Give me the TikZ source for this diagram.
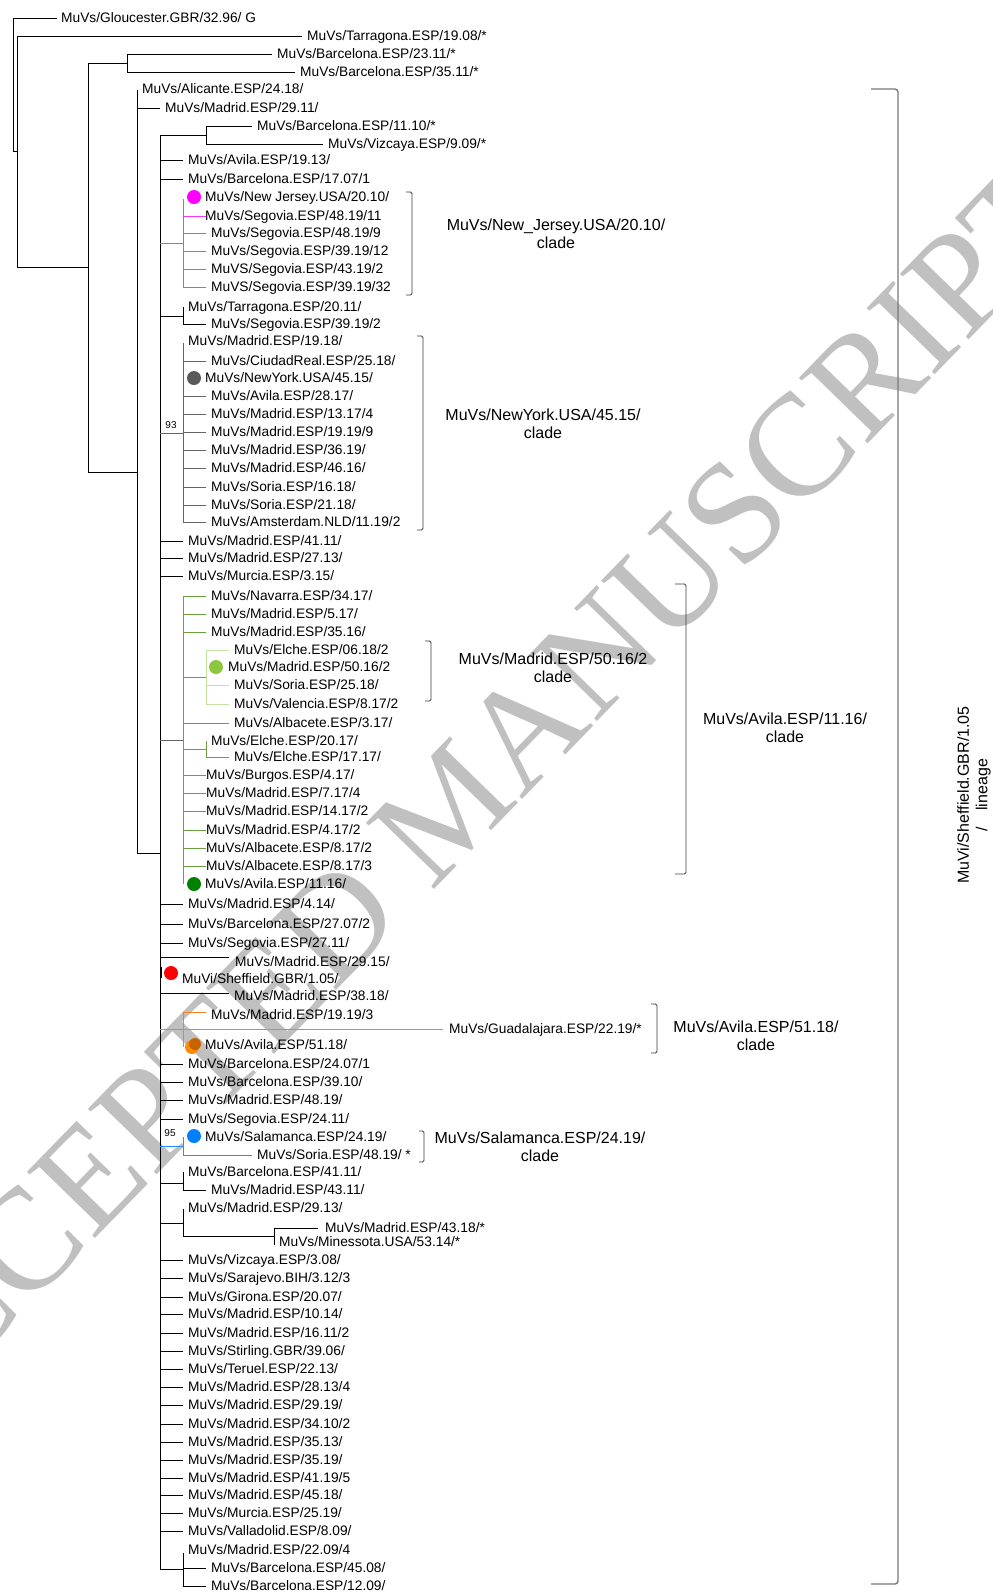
\documentclass[tikz,border=0pt]{standalone}
\usepackage{fontspec}
\newfontfamily\arialf{Liberation Sans}
\newfontfamily\timesf{Liberation Serif}
\newcommand\leaffont{\arialf\fontsize{13.75}{16}\selectfont}
\newcommand\cladefont{\arialf\fontsize{16}{18.5}\selectfont}
\newcommand\bootfont{\arialf\fontsize{10}{12}\selectfont}
\definecolor{mg}{RGB}{255,50,255}
\definecolor{magdot}{RGB}{255,0,255}
\definecolor{nyg}{RGB}{100,100,100}
\definecolor{nydot}{RGB}{90,90,90}
\definecolor{avg}{RGB}{105,160,65}
\definecolor{avdot}{RGB}{0,128,0}
\definecolor{lgr}{RGB}{195,225,165}
\definecolor{lgdot}{RGB}{141,198,63}
\definecolor{orl}{RGB}{245,130,20}
\definecolor{ordotA}{RGB}{255,140,0}
\definecolor{ordotB}{RGB}{200,100,0}
\definecolor{bll}{RGB}{40,140,255}
\definecolor{bldot}{RGB}{0,128,255}
\definecolor{wmc}{RGB}{192,192,192}
\definecolor{brk}{RGB}{60,60,60}
\definecolor{linc}{RGB}{120,120,120}
% leaf: [style]{name}{x0}{x1}{xlabel}{y}{text}
\newcommand\lf[7][br]{%
  \coordinate (#2-s) at (#3,#6);
  \coordinate (#2-e) at (#4,#6);
  \node[lab] (#2) at (#5,#6) {#7};
  \draw[#1] (#2-s) -- (#2-e);}
\begin{document}
\begin{tikzpicture}[x=1pt,y=-1pt,
  br/.style={line width=0.9pt,black},
  mgl/.style={line width=0.8pt,mg},
  nyl/.style={line width=0.8pt,nyg},
  avl/.style={line width=0.8pt,avg},
  lgl/.style={line width=0.8pt,lgr},
  orb/.style={line width=0.9pt,orl},
  blb/.style={line width=0.8pt,bll},
  brack/.style={line width=0.9pt,brk,rounded corners=1.5pt},
  lab/.style={anchor=base west,inner sep=0pt,font=\leaffont,yshift=-4.9pt},
  clade/.style={align=center,inner sep=0pt,font=\cladefont},
  boot/.style={inner sep=0pt,font=\bootfont},
  dot/.style={circle,inner sep=0pt,minimum size=14pt}]
\useasboundingbox (0,0) rectangle (993,1596);
\fill[white] (0,0) rectangle (993,1596);
% watermark
\node[rotate=45.8,text=wmc,inner sep=0pt,font=\timesf\fontsize{145}{145}\selectfont] (wmark) at (450,806) {ACCEPTED MANUSCRIPT};
% root part
\draw[br] (13,18) -- (13,151);
\lf{glo}{13}{57}{61}{18}{MuVs/Gloucester.GBR/32.96/ G}
\draw[br] (13,151) -- (17,151);
\draw[br] (17,36) -- (17,267);
\lf{tarA}{17}{302}{307}{36}{MuVs/Tarragona.ESP/19.08/*}
\draw[br] (17,267) -- (88,267);
\draw[br] (88,63) -- (88,472);
\draw[br] (88,63) -- (127,63);
\draw[br] (127,54) -- (127,72);
\lf{barA}{127}{272}{277}{54}{MuVs/Barcelona.ESP/23.11/*}
\lf{barB}{127}{295}{300}{72}{MuVs/Barcelona.ESP/35.11/*}
\draw[br] (88,472) -- (137,472);
\draw[br] (137,90) -- (137,853);
\node[lab] (ali) at (142,89) {MuVs/Alicante.ESP/24.18/};
\lf{madA}{137}{160}{165}{108}{MuVs/Madrid.ESP/29.11/}
\draw[br] (137,853) -- (160,853);
\draw[br] (160,135) -- (160,1569);
\draw[br] (160,135) -- (206,135);
\draw[br] (206,126) -- (206,144);
\lf{barC}{206}{252}{257}{126}{MuVs/Barcelona.ESP/11.10/*}
\lf{vizA}{206}{323}{328}{144}{MuVs/Vizcaya.ESP/9.09/*}
\lf{aviA}{160}{183}{188}{160}{MuVs/Avila.ESP/19.13/}
\lf{barD}{160}{183}{188}{179}{MuVs/Barcelona.ESP/17.07/1}
% New Jersey clade
\draw[mgl] (160,243) -- (183,243);
\draw[mgl] (183,199) -- (183,287);
\node[dot,fill=magdot] (dnj) at (194,197) {};
\node[lab] (nj) at (205,197) {MuVs/New Jersey.USA/20.10/};
\lf[mgl]{segA}{183}{206}{205}{216}{MuVs/Segovia.ESP/48.19/11}
\lf[mgl]{segB}{183}{206}{211}{233}{MuVs/Segovia.ESP/48.19/9}
\lf[mgl]{segC}{183}{206}{211}{251}{MuVs/Segovia.ESP/39.19/12}
\lf[mgl]{segD}{183}{206}{211}{269}{MuVS/Segovia.ESP/43.19/2}
\lf[mgl]{segE}{183}{206}{211}{287}{MuVS/Segovia.ESP/39.19/32}
\draw[brack] (406,192) -- (412,192) -- (412,295) -- (406,295);
\node[clade] (cnj) at (556,234) {MuVs/New\_Jersey.USA/20.10/\\clade};
% Tarragona 20.11
\draw[br] (160,316) -- (183,316);
\draw[br] (183,307) -- (183,325);
\node[lab] (tarB) at (188,307) {MuVs/Tarragona.ESP/20.11/};
\lf{segF}{183}{206}{211}{324}{MuVs/Segovia.ESP/39.19/2}
% New York clade
\draw[nyl] (160,433) -- (183,433);
\node[boot] (bA) at (171,425) {93};
\draw[nyl] (183,343) -- (183,523);
\node[lab] (madB) at (188,341) {MuVs/Madrid.ESP/19.18/};
\lf[nyl]{ciu}{183}{206}{211}{361}{MuVs/CiudadReal.ESP/25.18/}
\node[dot,fill=nydot] (dny) at (194,378) {};
\node[lab] (ny) at (205,378) {MuVs/NewYork.USA/45.15/};
\lf[nyl]{aviB}{183}{206}{211}{396}{MuVs/Avila.ESP/28.17/}
\lf[nyl]{madC}{183}{206}{211}{414}{MuVs/Madrid.ESP/13.17/4}
\lf[nyl]{madD}{183}{206}{211}{432}{MuVs/Madrid.ESP/19.19/9}
\lf[nyl]{madE}{183}{206}{211}{450}{MuVs/Madrid.ESP/36.19/}
\lf[nyl]{madF}{183}{206}{211}{468}{MuVs/Madrid.ESP/46.16/}
\lf[nyl]{sorA}{183}{206}{211}{487}{MuVs/Soria.ESP/16.18/}
\lf[nyl]{sorB}{183}{206}{211}{505}{MuVs/Soria.ESP/21.18/}
\lf[nyl]{ams}{183}{206}{211}{522}{MuVs/Amsterdam.NLD/11.19/2}
\draw[brack] (417,336) -- (423,336) -- (423,530) -- (417,530);
\node[clade] (cny) at (543,424) {MuVs/NewYork.USA/45.15/\\clade};
\lf{madG}{160}{183}{188}{541}{MuVs/Madrid.ESP/41.11/}
\lf{madH}{160}{183}{188}{558}{MuVs/Madrid.ESP/27.13/}
\lf{murA}{160}{183}{188}{576}{MuVs/Murcia.ESP/3.15/}
% Avila 11.16 clade
\draw[nyl] (160,740) -- (183,740);
\draw[avl] (183,596) -- (183,884);
\lf[avl]{nav}{183}{206}{211}{596}{MuVs/Navarra.ESP/34.17/}
\lf[avl]{madI}{183}{206}{211}{614}{MuVs/Madrid.ESP/5.17/}
\lf[avl]{madJ}{183}{206}{211}{632}{MuVs/Madrid.ESP/35.16/}
\draw[avl] (183,677) -- (206,677);
\draw[lgl] (206,650) -- (206,704);
\lf[lgl]{elcA}{206}{229}{234}{650}{MuVs/Elche.ESP/06.18/2}
\node[dot,fill=lgdot] (dmad) at (216,667) {};
\node[lab] (madK) at (228,667) {MuVs/Madrid.ESP/50.16/2};
\lf[lgl]{sorC}{206}{229}{234}{685}{MuVs/Soria.ESP/25.18/}
\lf[lgl]{val}{206}{229}{234}{704}{MuVs/Valencia.ESP/8.17/2}
\draw[brack] (425,641) -- (431,641) -- (431,701) -- (425,701);
\node[clade] (cmad) at (553,668) {MuVs/Madrid.ESP/50.16/2\\clade};
\lf[avl]{albA}{183}{229}{234}{723}{MuVs/Albacete.ESP/3.17/}
\draw[avl] (183,749) -- (206,749);
\draw[avl] (206,741) -- (206,758);
\node[lab] (elcB) at (211,741) {MuVs/Elche.ESP/20.17/};
\lf[avl]{elcC}{206}{229}{234}{757}{MuVs/Elche.ESP/17.17/}
\lf[avl]{bur}{183}{206}{206}{775}{MuVs/Burgos.ESP/4.17/}
\lf[avl]{madL}{183}{206}{206}{793}{MuVs/Madrid.ESP/7.17/4}
\lf[avl]{madM}{183}{206}{206}{811}{MuVs/Madrid.ESP/14.17/2}
\lf[avl]{madN}{183}{206}{206}{830}{MuVs/Madrid.ESP/4.17/2}
\lf[avl]{albB}{183}{206}{206}{848}{MuVs/Albacete.ESP/8.17/2}
\lf[avl]{albC}{183}{206}{206}{866}{MuVs/Albacete.ESP/8.17/3}
\node[dot,fill=avdot] (dav) at (194,884) {};
\node[lab] (aviC) at (205,884) {MuVs/Avila.ESP/11.16/};
\draw[brack] (675,584) -- (686,584) -- (686,874) -- (675,874);
\node[clade] (cav) at (785,728) {MuVs/Avila.ESP/11.16/\\clade};
% middle part
\lf{madO}{160}{183}{188}{904}{MuVs/Madrid.ESP/4.14/}
\lf{barE}{160}{183}{188}{924}{MuVs/Barcelona.ESP/27.07/2}
\lf{segG}{160}{183}{188}{943}{MuVs/Segovia.ESP/27.11/}
\draw[br] (160,957) -- (229,957);
\node[lab] (madP) at (235,962) {MuVs/Madrid.ESP/29.15/};
\node[dot,fill=red] (dsh) at (171,973) {};
\draw[line width=1.6pt] (161,967) -- (161,978);
\node[lab] (she) at (182,979) {MuVi/Sheffield.GBR/1.05/};
\draw[br] (160,993) -- (229,993);
\node[lab] (madQ) at (234,996) {MuVs/Madrid.ESP/38.18/};
% Avila 51.18 clade
\lf[orb]{gua}{160}{443}{449}{1029}{MuVs/Guadalajara.ESP/22.19/*}
\draw[orb] (183,1012) -- (183,1047);
\draw[orb] (183,1012) -- (206,1012);
\node[lab] (madR) at (211,1015) {MuVs/Madrid.ESP/19.19/3};
\node[dot,fill=ordotA] (doA) at (192,1047) {};
\node[dot,fill=ordotB,minimum size=12pt] (doB) at (195,1044) {};
\node[lab] (aviD) at (205,1045) {MuVs/Avila.ESP/51.18/};
\draw[brack] (651,1004) -- (657,1004) -- (657,1053) -- (651,1053);
\node[clade] (cavb) at (756,1036) {MuVs/Avila.ESP/51.18/\\clade};
\lf{barF}{160}{183}{188}{1064}{MuVs/Barcelona.ESP/24.07/1}
\lf{barG}{160}{183}{188}{1082}{MuVs/Barcelona.ESP/39.10/}
\lf{madS}{160}{183}{188}{1100}{MuVs/Madrid.ESP/48.19/}
\lf{segH}{160}{183}{188}{1119}{MuVs/Segovia.ESP/24.11/}
% Salamanca clade
\node[boot] (bB) at (170,1133) {95};
\draw[blb] (160,1146) -- (183,1146);
\draw[blb] (183,1137) -- (183,1155);
\node[dot,fill=bldot] (dsal) at (194,1136) {};
\node[lab] (sal) at (205,1137) {MuVs/Salamanca.ESP/24.19/};
\lf[blb]{sorD}{183}{252}{257}{1155}{MuVs/Soria.ESP/48.19/ *}
\draw[brack] (419,1131) -- (424,1131) -- (424,1162) -- (419,1162);
\node[clade] (csal) at (540,1147) {MuVs/Salamanca.ESP/24.19/\\clade};
% lower part
\draw[br] (160,1183) -- (183,1183);
\draw[br] (183,1172) -- (183,1190);
\node[lab] (barH) at (188,1172) {MuVs/Barcelona.ESP/41.11/};
\lf{madT}{183}{206}{211}{1190}{MuVs/Madrid.ESP/43.11/}
\draw[br] (160,1223) -- (183,1223);
\draw[br] (183,1209) -- (183,1236);
\node[lab] (madU) at (188,1208) {MuVs/Madrid.ESP/29.13/};
\draw[br] (183,1236) -- (274,1236);
\draw[br] (274,1228) -- (274,1245);
\lf{madV}{274}{318}{325}{1228}{MuVs/Madrid.ESP/43.18/*}
\node[lab] (min) at (279,1242) {MuVs/Minessota.USA/53.14/*};
\lf{vizB}{160}{183}{188}{1260}{MuVs/Vizcaya.ESP/3.08/}
\lf{sar}{160}{183}{188}{1278}{MuVs/Sarajevo.BIH/3.12/3}
\lf{gir}{160}{183}{188}{1297}{MuVs/Girona.ESP/20.07/}
\lf{madW}{160}{183}{188}{1314}{MuVs/Madrid.ESP/10.14/}
\lf{madX}{160}{183}{188}{1333}{MuVs/Madrid.ESP/16.11/2}
\lf{sti}{160}{183}{188}{1351}{MuVs/Stirling.GBR/39.06/}
\lf{ter}{160}{183}{188}{1369}{MuVs/Teruel.ESP/22.13/}
\lf{madY}{160}{183}{188}{1387}{MuVs/Madrid.ESP/28.13/4}
\lf{madZ}{160}{183}{188}{1405}{MuVs/Madrid.ESP/29.19/}
\lf{madAA}{160}{183}{188}{1424}{MuVs/Madrid.ESP/34.10/2}
\lf{madAB}{160}{183}{188}{1442}{MuVs/Madrid.ESP/35.13/}
\lf{madAC}{160}{183}{188}{1460}{MuVs/Madrid.ESP/35.19/}
\lf{madAD}{160}{183}{188}{1478}{MuVs/Madrid.ESP/41.19/5}
\lf{madAE}{160}{183}{188}{1495}{MuVs/Madrid.ESP/45.18/}
\lf{murB}{160}{183}{188}{1513}{MuVs/Murcia.ESP/25.19/}
\lf{vall}{160}{183}{188}{1531}{MuVs/Valladolid.ESP/8.09/}
\draw[br] (160,1569) -- (183,1569);
\draw[br] (183,1553) -- (183,1586);
\node[lab] (madAF) at (188,1550) {MuVs/Madrid.ESP/22.09/4};
\lf{barI}{183}{206}{211}{1568}{MuVs/Barcelona.ESP/45.08/}
\lf{barJ}{183}{206}{211}{1586}{MuVs/Barcelona.ESP/12.09/}
% lineage bracket
\draw[line width=1.4pt,linc,rounded corners=3pt] (871,89) -- (898,89) -- (898,1584) -- (871,1584);
\node[clade,rotate=90] (lin) at (974,795) {MuVi/Sheffield.GBR/1.05\\/\quad lineage};
\end{tikzpicture}
\end{document}
